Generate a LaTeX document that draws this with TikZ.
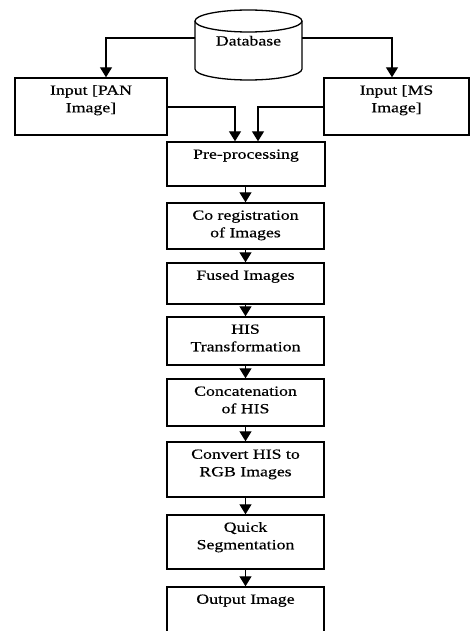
\documentclass[tikz,border=0pt]{standalone}
\usepackage{fontspec}
% wide Times-style face used for every label
\setmainfont{Liberation Serif}[FakeStretch=1.27, FakeBold=0.4]
\usetikzlibrary{arrows.meta}

% centred lines, top-aligned inside a W x H box
\newcommand{\linesof}[1]{\begin{tabular}[t]{@{}c@{}}#1\end{tabular}}
\newcommand{\boxlabel}[3]{\vbox to #2{\hsize=#1\vskip 4.5pt\hbox to #1{\hss\linesof{#3}\hss}\vfil}}

\begin{document}
\begin{tikzpicture}[x=1pt,y=-1pt,
  font=\fontsize{14pt}{17.5pt}\selectfont,
  stepbox/.style={draw, line width=1.4pt, inner sep=0pt},
  flow/.style={line width=1.3pt, -{Triangle[width=12pt,length=10pt]}},
  cyl/.style={line width=1.3pt}]
\clip (0,0) rectangle (470,631);

% database cylinder
\node[inner sep=0pt, minimum width=107pt, minimum height=70pt] (db) at (248.5,45) {};
\node[anchor=base, inner sep=0pt] (dblabel) at (248.5,45.5) {Database};
\draw[cyl] (248.5,21) ellipse [x radius=53.5, y radius=11];
\draw[cyl] (195,21) -- (195,69) arc[start angle=180, end angle=0, x radius=53.5, y radius=11] -- (302,21);

% input boxes
\node[stepbox] (pan) at (91,106.5) {\boxlabel{152pt}{57pt}{Input [PAN\\Image]}};
\node[stepbox] (ms) at (396.5,106.5) {\boxlabel{145pt}{57pt}{Input [MS\\Image]}};

% processing chain
\node[stepbox] (pre) at (246,164) {\boxlabel{158pt}{44pt}{Pre-processing}};
\node[stepbox] (coreg) at (245.5,226) {\boxlabel{157pt}{46pt}{Co registration\\of Images}};
\node[stepbox] (fused) at (245.5,283.5) {\boxlabel{157pt}{41pt}{Fused Images}};
\node[stepbox] (hist) at (245.5,341) {\boxlabel{157pt}{48pt}{HIS\\Transformation}};
\node[stepbox] (concat) at (245.5,402.5) {\boxlabel{157pt}{47pt}{Concatenation\\of HIS}};
\node[stepbox] (conv) at (245.5,469.5) {\boxlabel{157pt}{55pt}{Convert HIS to\\RGB Images}};
\node[stepbox] (quick) at (245.5,542) {\boxlabel{157pt}{54pt}{Quick\\Segmentation}};
\node[stepbox] (out) at (245.5,614) {\boxlabel{157pt}{54pt}{Output Image}};

% connectors
\draw[flow] (db.west |- 0,38) -| ([xshift=15pt]pan.north);
\draw[flow] (db.east |- 0,38) -| ([xshift=-4.5pt]ms.north);
\draw[flow] (pan.east |- 0,107) -| ([xshift=-11pt]pre.north);
\draw[flow] (ms.west |- 0,107) -| ([xshift=12pt]pre.north);
\draw[flow] (pre.south -| coreg.north) -- (coreg.north);
\draw[flow] (coreg) -- (fused);
\draw[flow] (fused) -- (hist);
\draw[flow] (hist) -- (concat);
\draw[flow] (concat) -- (conv);
\draw[flow] (conv) -- (quick);
\draw[flow] (quick) -- (out);
\end{tikzpicture}
\end{document}
